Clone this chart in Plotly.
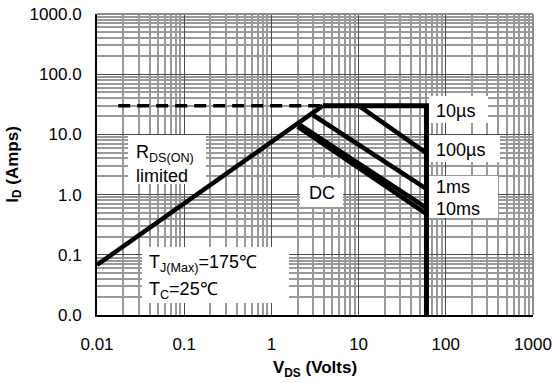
import numpy as np
import plotly.graph_objects as go

# ---- data ----
rds_v = [0.01, 3.9]
rds_i = [0.068, 30]
lim_v = [0.0175, 3.9]
lim_i = [30, 30]
us10_v = [3.9, 60, 60]
us10_i = [30, 30, 0.01]
us100_v = [10, 60]
us100_i = [30, 4.9]
ms1_v = [3.0, 60]
ms1_i = [21, 1.25]
ms10_v = [2.1, 60]
ms10_i = [14.5, 0.6]
dc_v = [2.0, 60]
dc_i = [13.5, 0.48]

x_tickvals = [0.01, 0.1, 1, 10, 100, 1000]
x_ticktext = ["0.01", "0.1", "1", "10", "100", "1000"]
y_tickvals = [0.01, 0.1, 1, 10, 100, 1000]
y_ticktext = ["0.0", "0.1", "1.0", "10.0", "100.0", "1000.0"]

FONT = "Arial, Liberation Sans, sans-serif"
BLACK = "#000000"
W, H = 554, 383
ML, MR, MT, MB = 97, 21, 14, 68

fig = go.Figure()

def add_line(x, y, width=4.5, dash="solid"):
    fig.add_trace(go.Scatter(x=x, y=y, mode="lines",
                             line=dict(color=BLACK, width=width, dash=dash),
                             hoverinfo="skip"))

add_line(lim_v, lim_i, width=3.5, dash="12px,7px")
add_line(rds_v, rds_i)
add_line(us10_v, us10_i, width=5)
add_line(us100_v, us100_i)
add_line(ms1_v, ms1_i)
add_line(ms10_v, ms10_i)
add_line(dc_v, dc_i)

minor_vals = [m * 10.0 ** d for d in range(-2, 3) for m in range(2, 10)]

axis_common = dict(
    type="log",
    showgrid=True, gridcolor="#4a4a4a", gridwidth=1,
    minor=dict(tickvals=minor_vals, showgrid=True, gridcolor="#999999", gridwidth=2, ticks=""),
    showline=True, linecolor=BLACK, linewidth=2,
    ticks="", zeroline=False,
    tickfont=dict(family=FONT, size=17, color=BLACK),
)

fig.update_xaxes(range=[-2, 3], tickvals=x_tickvals, ticktext=x_ticktext,
                 ticklabelstandoff=13,
                 title=dict(text="<b>V<sub>DS</sub> (Volts)</b>", standoff=8,
                            font=dict(family=FONT, size=17, color=BLACK)),
                 **axis_common)
fig.update_yaxes(range=[-2, 3], tickvals=y_tickvals, ticktext=y_ticktext,
                 ticklabelstandoff=10,
                 title=dict(text="<b>I<sub>D</sub> (Amps)</b>", standoff=7,
                            font=dict(family=FONT, size=17, color=BLACK)),
                 **axis_common)

# frame on top/right (gray)
fig.add_shape(type="line", xref="paper", yref="paper", x0=0, x1=1, y0=1, y1=1,
              line=dict(color="#8c8c8c", width=2))
fig.add_shape(type="line", xref="paper", yref="paper", x0=1, x1=1, y0=0, y1=1,
              line=dict(color="#8c8c8c", width=2))

PW, PH = W - ML - MR, H - MT - MB
def fx(px):
    return (px - ML) / PW
def fy(py):
    return (H - MB - py) / PH

# white label boxes (pixel rectangles: left, top, right, bottom)
boxes = [
    (128, 135, 206, 184),
    (142, 247, 289, 303),
    (300, 178, 343, 207),
    (429, 96, 488, 123),
    (429, 135, 500, 162),
    (429, 176, 498, 218),
]
for x0, y0, x1, y1 in boxes:
    fig.add_shape(type="rect", xref="paper", yref="paper",
                  x0=fx(x0), x1=fx(x1), y0=fy(y1), y1=fy(y0),
                  fillcolor="white", line=dict(width=0), layer="above")

# label texts: (text, x, y-center, anchor)
texts = [
    ("R<sub>DS(ON)</sub>", 135, 153, "left"),
    ("limited", 135, 176, "left"),
    ("T<sub>J(Max)</sub>=175℃", 148, 263, "left"),
    ("T<sub>C</sub>=25℃", 148, 290, "left"),
    ("DC", 321.5, 193, "center"),
    ("10µs", 435, 111, "left"),
    ("100µs", 435, 150, "left"),
    ("1ms", 435, 187.5, "left"),
    ("10ms", 435, 209, "left"),
]
for t, px, py, anc in texts:
    fig.add_annotation(x=fx(px), y=fy(py), xref="paper", yref="paper",
                       text=t, showarrow=False, xanchor=anc, yanchor="middle",
                       borderpad=0, font=dict(family=FONT, size=18, color=BLACK))

fig.update_layout(
    width=W, height=H,
    margin=dict(l=ML, r=MR, t=MT, b=MB, autoexpand=False),
    paper_bgcolor="white", plot_bgcolor="white",
    showlegend=False,
    font=dict(family=FONT, size=17, color=BLACK),
)

fig.write_html("out.html", config={"displayModeBar": False},
               post_script="document.body.style.margin='0';")
